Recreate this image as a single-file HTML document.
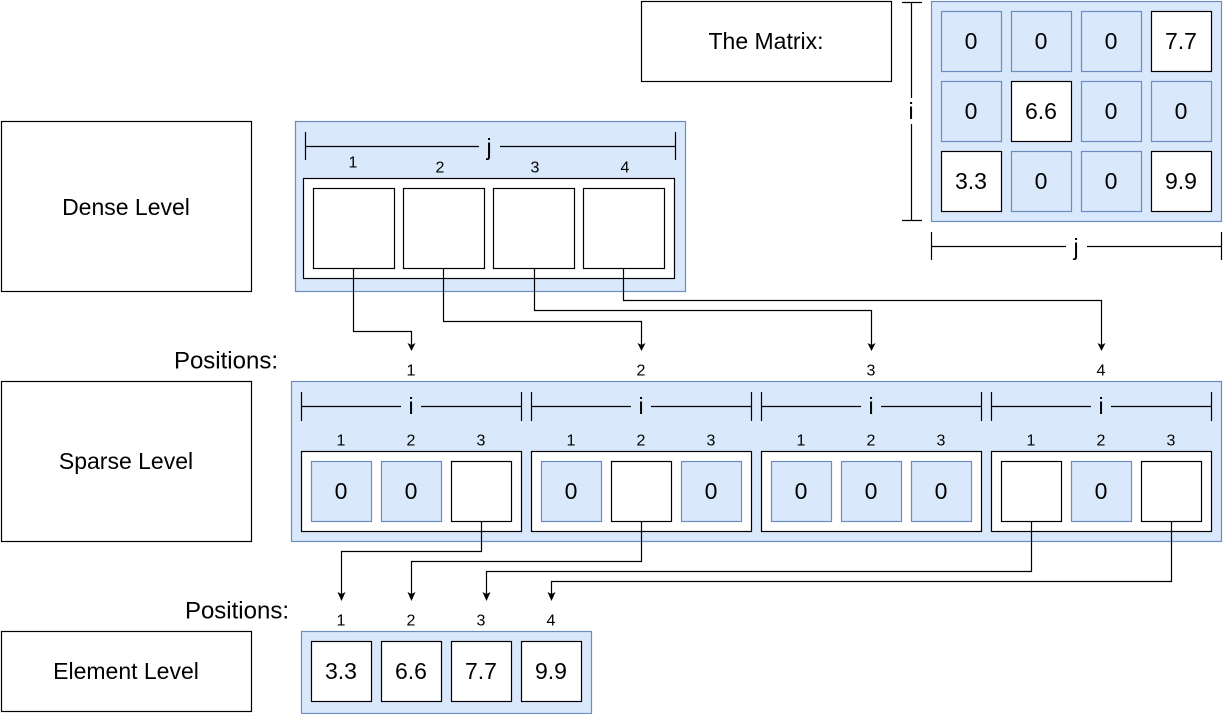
<!DOCTYPE html>
<html><head><meta charset="utf-8"><style>
html,body{margin:0;padding:0;background:#fff;}
svg{display:block;font-family:"Liberation Sans",Arial,sans-serif;}
</style></head><body>
<svg width="1224" height="714" viewBox="0 0 1224 714" xmlns="http://www.w3.org/2000/svg">
<style>
.b{fill:#fff;stroke:#000;stroke-width:1.2}
.bl{fill:#dae8fc;stroke:#6c8ebf;stroke-width:1.2}
.t{font-size:23px;text-anchor:middle;dominant-baseline:central}
.s{font-size:16px;text-anchor:middle;dominant-baseline:central}
.l{stroke:#000;stroke-width:1.2;fill:none}
.c{stroke:#000;stroke-width:1.2;fill:none}
.ah{fill:#000}
</style>

<rect class="b" x="641.5" y="1.5" width="250" height="80"/>
<text class="t" x="766" y="41">The Matrix:</text>
<rect class="b" x="1.5" y="121.5" width="250" height="170"/>
<text class="t" x="126" y="207">Dense Level</text>
<rect class="b" x="1.5" y="381.5" width="250" height="160"/>
<text class="t" x="126" y="461">Sparse Level</text>
<rect class="b" x="1.5" y="631.5" width="250" height="80"/>
<text class="t" x="126" y="671">Element Level</text>
<text x="278" y="361" font-size="24" text-anchor="end" dominant-baseline="central">Positions:</text>
<text x="289" y="611" font-size="24" text-anchor="end" dominant-baseline="central">Positions:</text>

<rect class="bl" x="931.5" y="1.5" width="290" height="220"/>
<rect class="bl" x="941.5" y="11.5" width="60" height="60"/><text class="t" x="971" y="41">0</text>
<rect class="bl" x="1011.5" y="11.5" width="60" height="60"/><text class="t" x="1041" y="41">0</text>
<rect class="bl" x="1081.5" y="11.5" width="60" height="60"/><text class="t" x="1111" y="41">0</text>
<rect class="b" x="1151.5" y="11.5" width="60" height="60"/><text class="t" x="1181" y="41">7.7</text>
<rect class="bl" x="941.5" y="81.5" width="60" height="60"/><text class="t" x="971" y="111">0</text>
<rect class="b" x="1011.5" y="81.5" width="60" height="60"/><text class="t" x="1041" y="111">6.6</text>
<rect class="bl" x="1081.5" y="81.5" width="60" height="60"/><text class="t" x="1111" y="111">0</text>
<rect class="bl" x="1151.5" y="81.5" width="60" height="60"/><text class="t" x="1181" y="111">0</text>
<rect class="b" x="941.5" y="151.5" width="60" height="60"/><text class="t" x="971" y="181">3.3</text>
<rect class="bl" x="1011.5" y="151.5" width="60" height="60"/><text class="t" x="1041" y="181">0</text>
<rect class="bl" x="1081.5" y="151.5" width="60" height="60"/><text class="t" x="1111" y="181">0</text>
<rect class="b" x="1151.5" y="151.5" width="60" height="60"/><text class="t" x="1181" y="181">9.9</text>
<path class="l" d="M911.5,2 V98 M911.5,124 V221 M902,2.5 H922 M902,220.5 H922"/>
<text class="t" x="911" y="111">i</text>
<path class="l" d="M931.5,232 V260 M1221.5,232 V260 M931.5,246.5 H1066 M1087,246.5 H1221"/>
<text class="t" x="1076" y="247">j</text>

<rect class="bl" x="295.5" y="121.5" width="390" height="170"/>
<path class="l" d="M305.5,132 V160 M675.5,132 V160 M305.5,146.5 H479 M500,146.5 H675"/>
<text class="t" x="489" y="147">j</text>
<text class="s" x="353" y="163">1</text>
<text class="s" x="440" y="168">2</text>
<text class="s" x="535" y="168">3</text>
<text class="s" x="625" y="168">4</text>
<rect class="b" x="303.5" y="178.5" width="371" height="100"/>
<rect class="b" x="313.5" y="188.5" width="81" height="80"/>
<rect class="b" x="403.5" y="188.5" width="81" height="80"/>
<rect class="b" x="493.5" y="188.5" width="81" height="80"/>
<rect class="b" x="583.5" y="188.5" width="81" height="80"/>
<path class="c" d="M353.5,268 V331.5 H411.5 V346"/>
<path class="c" d="M443.5,268 V321.5 H641.5 V346"/>
<path class="c" d="M534.5,268 V310.5 H871.5 V346"/>
<path class="c" d="M623.5,268 V300.5 H1101.5 V346"/>
<path class="ah" d="M407.5,343 L411.5,351 L415.5,343 L411.5,345 Z"/>
<path class="ah" d="M637.5,343 L641.5,351 L645.5,343 L641.5,345 Z"/>
<path class="ah" d="M867.5,343 L871.5,351 L875.5,343 L871.5,345 Z"/>
<path class="ah" d="M1097.5,343 L1101.5,351 L1105.5,343 L1101.5,345 Z"/>
<text class="s" x="411" y="371">1</text>
<text class="s" x="641" y="371">2</text>
<text class="s" x="871" y="371">3</text>
<text class="s" x="1101" y="371">4</text>

<rect class="bl" x="291.5" y="381.5" width="930" height="160"/>
<g>
<path class="l" d="M301.5,392 V421 M521.5,392 V421 M301.5,406.5 H401 M421,406.5 H521"/>
<text class="t" x="411" y="406">i</text>
<text class="s" x="341" y="441">1</text><text class="s" x="411" y="441">2</text><text class="s" x="481" y="441">3</text>
<rect class="b" x="301.5" y="451.5" width="220" height="80"/>
</g>
<g transform="translate(230,0)">
<path class="l" d="M301.5,392 V421 M521.5,392 V421 M301.5,406.5 H401 M421,406.5 H521"/>
<text class="t" x="411" y="406">i</text>
<text class="s" x="341" y="441">1</text><text class="s" x="411" y="441">2</text><text class="s" x="481" y="441">3</text>
<rect class="b" x="301.5" y="451.5" width="220" height="80"/>
</g>
<g transform="translate(460,0)">
<path class="l" d="M301.5,392 V421 M521.5,392 V421 M301.5,406.5 H401 M421,406.5 H521"/>
<text class="t" x="411" y="406">i</text>
<text class="s" x="341" y="441">1</text><text class="s" x="411" y="441">2</text><text class="s" x="481" y="441">3</text>
<rect class="b" x="301.5" y="451.5" width="220" height="80"/>
</g>
<g transform="translate(690,0)">
<path class="l" d="M301.5,392 V421 M521.5,392 V421 M301.5,406.5 H401 M421,406.5 H521"/>
<text class="t" x="411" y="406">i</text>
<text class="s" x="341" y="441">1</text><text class="s" x="411" y="441">2</text><text class="s" x="481" y="441">3</text>
<rect class="b" x="301.5" y="451.5" width="220" height="80"/>
</g>
<rect class="bl" x="311.5" y="461.5" width="60" height="60"/><text class="t" x="341" y="491">0</text>
<rect class="bl" x="381.5" y="461.5" width="60" height="60"/><text class="t" x="411" y="491">0</text>
<rect class="b" x="451.5" y="461.5" width="60" height="60"/>
<rect class="bl" x="541.5" y="461.5" width="60" height="60"/><text class="t" x="571" y="491">0</text>
<rect class="b" x="611.5" y="461.5" width="60" height="60"/>
<rect class="bl" x="681.5" y="461.5" width="60" height="60"/><text class="t" x="711" y="491">0</text>
<rect class="bl" x="771.5" y="461.5" width="60" height="60"/><text class="t" x="801" y="491">0</text>
<rect class="bl" x="841.5" y="461.5" width="60" height="60"/><text class="t" x="871" y="491">0</text>
<rect class="bl" x="911.5" y="461.5" width="60" height="60"/><text class="t" x="941" y="491">0</text>
<rect class="b" x="1001.5" y="461.5" width="60" height="60"/>
<rect class="bl" x="1071.5" y="461.5" width="60" height="60"/><text class="t" x="1101" y="491">0</text>
<rect class="b" x="1141.5" y="461.5" width="60" height="60"/>

<path class="c" d="M481.5,521 V551.5 H341.5 V596"/>
<path class="c" d="M641.5,521 V561.5 H411.5 V596"/>
<path class="c" d="M1031.5,521 V571.5 H486.5 V596"/>
<path class="c" d="M1171.5,521 V581.5 H551.5 V596"/>
<path class="ah" d="M337.5,592 L341.5,601 L345.5,592 L341.5,594 Z"/>
<path class="ah" d="M407.5,592 L411.5,601 L415.5,592 L411.5,594 Z"/>
<path class="ah" d="M482.5,592 L486.5,601 L490.5,592 L486.5,594 Z"/>
<path class="ah" d="M547.5,592 L551.5,601 L555.5,592 L551.5,594 Z"/>
<text class="s" x="341" y="621">1</text>
<text class="s" x="411" y="621">2</text>
<text class="s" x="481" y="621">3</text>
<text class="s" x="551" y="621">4</text>

<rect class="bl" x="301.5" y="631.5" width="290" height="82"/>
<rect class="b" x="311.5" y="641.5" width="60" height="60"/><text class="t" x="341" y="671">3.3</text>
<rect class="b" x="381.5" y="641.5" width="60" height="60"/><text class="t" x="411" y="671">6.6</text>
<rect class="b" x="451.5" y="641.5" width="60" height="60"/><text class="t" x="481" y="671">7.7</text>
<rect class="b" x="521.5" y="641.5" width="60" height="60"/><text class="t" x="551" y="671">9.9</text>
</svg>
</body></html>
